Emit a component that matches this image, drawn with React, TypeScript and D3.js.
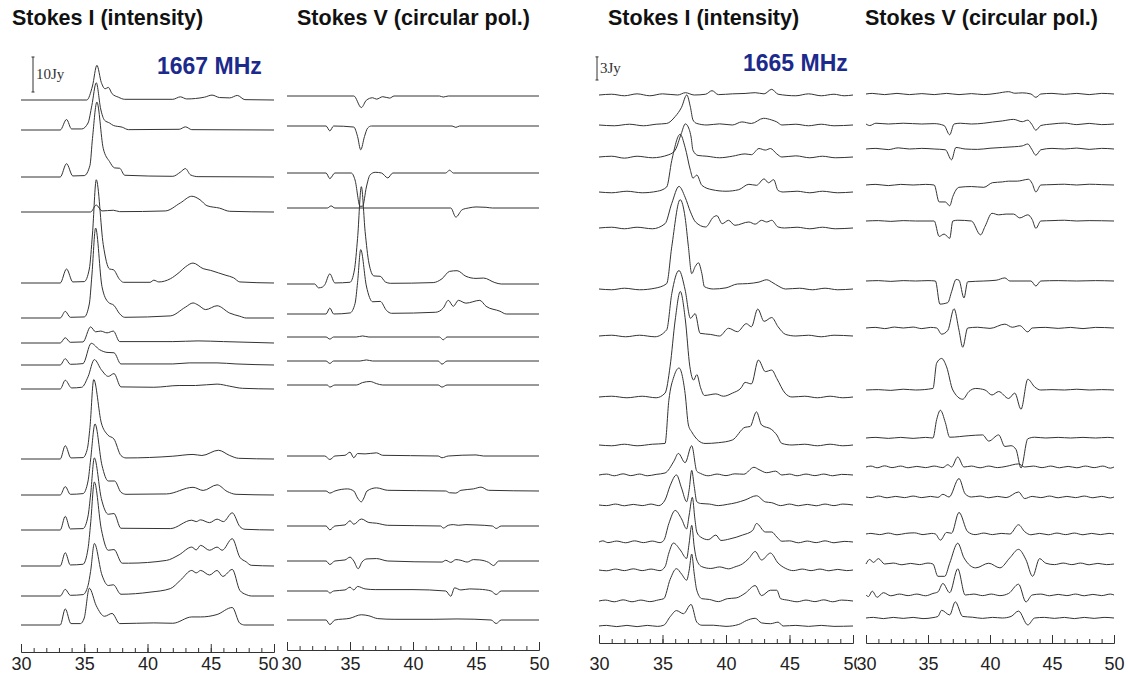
import { useEffect, useRef } from 'react'
import * as d3 from 'd3'

// velocity axis, km/s
const velDomain = [30, 50]
const majorTicks = [30, 35, 40, 45, 50]
const minorTicks = d3.range(30, 51, 1)

const titles = ['Stokes I (intensity)', 'Stokes V (circular pol.)', 'Stokes I (intensity)', 'Stokes V (circular pol.)']
const freqLabels = ['1667 MHz', '1665 MHz']
const barLabels = ['10Jy', '3Jy']
const barJy = [10, 3]

// spectra, flat lists of (velocity, flux in Jy), top trace first
const stokesI1667 = [
  [35.2,0, 35.65,4, 36.0,9.9, 36.35,5, 36.65,3.2, 36.9,3.6, 37.2,1.8, 37.7,0.8, 38.2,0.2, 42.0,0.2, 42.6,0.9, 43.1,0.3, 44.5,0.8, 45.1,1.4, 45.7,0.7, 46.5,0.6, 47.1,1.3, 47.7,0.1],
  [33.1,0, 33.6,3, 34.0,0.3, 34.8,0.3, 35.3,2, 35.6,7, 35.95,13.5, 36.3,6, 36.6,2.8, 37.0,2, 37.3,1.3, 38.0,0.8, 38.5,0.1, 42.5,0.2, 43.0,0.9, 43.5,0.1],
  [33.1,0, 33.6,3.8, 34.1,0.3, 35.0,0.4, 35.45,3.3, 35.65,11, 36.0,21.4, 36.5,8.2, 37.0,4.4, 37.4,2.6, 37.8,2.5, 38.2,0.5, 42.0,0.2, 42.6,1.4, 43.0,2.4, 43.4,0.6, 44.0,0.1],
  [35.5,0, 35.95,2, 36.4,0.3, 37.3,0.5, 37.8,0.1, 41.4,0.3, 42.6,2.6, 43.5,4.5, 44.15,3.5, 44.7,1.8, 45.7,1.1, 46.5,0.2],
  [33.1,0, 33.6,4, 34.1,0.3, 35.0,0.4, 35.4,4, 35.65,14, 35.95,29.5, 36.5,11, 37.0,4, 37.3,3.8, 37.8,1, 38.1,0.2, 40.2,0.2, 40.5,0.8, 40.9,0.3, 41.8,1.2, 42.5,3, 43.0,4.6, 43.6,5.7, 44.4,4.1, 45.0,3.6, 45.6,2.9, 46.2,2.2, 46.8,1.5, 47.3,0.3],
  [33.1,0, 33.5,1.9, 33.9,0.2, 35.0,0.3, 35.4,4, 35.6,12, 35.9,25.7, 36.4,9, 36.9,4.5, 37.35,3.6, 37.8,1.2, 38.2,0.2, 41.8,0.6, 43.0,3.1, 43.6,4.3, 44.0,3.7, 44.6,2.4, 45.5,3.5, 46.5,1.4, 47.3,0.5, 47.8,0],
  [33.1,0, 33.5,1.5, 33.9,0.2, 34.9,0.3, 35.5,4.6, 35.9,3.2, 36.3,3.4, 36.8,2.9, 37.3,3.4, 37.8,0.4, 42.0,0.4, 44.0,0.6, 46.0,0.4],
  [33.1,0, 33.5,1.8, 33.9,0.2, 34.9,0.4, 35.55,6.2, 36.2,4.4, 36.8,3.6, 37.35,3.5, 37.9,0.3, 42.0,0.3, 43.3,0.6, 45.5,0.6, 47.0,0.3],
  [33.1,0, 33.5,2.5, 34.0,0.3, 34.8,0.5, 35.3,3.5, 35.8,8.4, 36.35,5.5, 36.9,3.6, 37.35,4.4, 37.9,0.6, 40.5,0.5, 42.5,1, 43.8,1, 45.5,1.4, 46.5,0.8, 47.5,0.2],
  [33.1,0, 33.5,3.8, 33.95,0.3, 34.9,0.4, 35.25,3, 35.45,9, 35.75,22.7, 36.35,10.3, 36.85,6.9, 37.35,5.7, 37.9,1, 38.3,0.3, 42.0,0.8, 43.6,1.3, 44.3,1, 45.6,2.5, 46.5,1, 47.2,0.2],
  [33.1,0, 33.5,2.4, 33.9,0.2, 34.9,0.4, 35.3,4, 35.5,10, 35.85,20.3, 36.4,8.5, 36.9,4, 37.4,4, 37.9,0.8, 38.3,0.2, 41.5,0.3, 43.6,2.2, 44.4,1.3, 45.5,2.9, 46.3,1, 47.0,0.2],
  [33.1,0, 33.5,3.9, 33.9,0.3, 34.9,0.4, 35.3,4, 35.5,10, 35.8,20.6, 36.35,9, 36.9,4.5, 37.35,4.7, 37.9,0.5, 41.8,0.4, 43.5,2.8, 43.85,2.4, 44.2,2.9, 44.9,2.1, 45.5,3.1, 46.0,2.4, 46.7,4.9, 47.3,1, 47.7,0.2],
  [33.1,0, 33.5,3.8, 33.9,0.3, 34.9,0.5, 35.3,5, 35.5,12, 35.8,24, 36.35,10.5, 36.9,4.5, 37.35,4.7, 38.0,0.8, 38.5,0.8, 41.5,1.6, 42.5,3.2, 43.5,5.4, 43.85,4.6, 44.2,5.9, 44.9,4.5, 45.5,5.4, 45.9,4.5, 46.7,7.8, 47.3,2.5, 47.8,1.2, 48.2,0.2],
  [33.1,0, 33.5,1.9, 33.9,0.2, 34.9,0.4, 35.3,3, 35.5,7, 35.8,15, 36.4,6, 36.9,3, 37.3,3.2, 37.9,0.5, 40.2,1.1, 41.8,2.1, 42.6,4.5, 43.5,7.3, 43.85,6.6, 44.2,7.3, 44.9,6, 45.5,7.3, 45.95,5.6, 46.7,7.6, 47.3,1.6, 47.8,0.4, 48.2,0],
  [33.1,0, 33.5,4.6, 33.95,0.4, 34.7,0.4, 35.0,2, 35.4,10.5, 35.95,5.5, 36.6,2.5, 37.2,3.3, 37.8,0.4, 40.5,0.6, 42.0,0.5, 43.5,2.3, 44.2,2.3, 45.5,3, 46.7,5, 47.3,0.5, 47.7,0],
]

const stokesV1667 = [
  [35.3,0, 35.9,-3.3, 36.3,-1.2, 36.8,-0.5, 37.1,-0.9, 37.6,-0.2, 38.15,-0.6, 38.5,0, 42.1,0, 42.4,-0.3, 42.8,0],
  [33.1,0, 33.4,-1.4, 33.7,0, 35.3,-0.3, 35.6,-3, 35.85,-6.8, 36.15,-3, 36.4,-0.6, 36.7,0, 43.1,0, 43.4,-0.4, 43.7,0],
  [33.1,0, 33.4,-1.6, 33.8,0, 35.1,0, 35.4,-2, 35.8,-9.5, 36.0,-9.5, 36.3,-4, 36.6,-0.5, 37.0,0.2, 37.5,0, 38.0,-1.4, 38.4,0, 42.6,0, 42.9,0.8, 43.2,0],
  [33.2,0, 33.5,0.6, 33.8,0, 43.0,0, 43.4,-2.6, 43.9,-0.5, 44.4,0, 45.0,0.3, 45.8,0.2, 46.3,0],
  [32.2,0, 32.5,-1.1, 32.8,-0.9, 33.0,-0.2, 33.4,2.9, 33.8,0.3, 35.0,0.5, 35.35,4, 35.6,13, 35.9,27.8, 36.2,15, 36.5,6, 36.9,2.3, 37.4,2.2, 37.8,0.6, 38.2,0.2, 41.6,0.4, 42.3,1.5, 42.9,3.6, 43.5,3.8, 44.2,2.2, 45.0,1.6, 45.6,1.7, 46.5,0.4, 47.0,0],
  [33.1,0, 33.4,1.7, 33.7,0, 35.0,0.3, 35.4,3, 35.6,9, 35.85,18.4, 36.3,8, 36.8,3.5, 37.4,3.6, 37.9,1, 38.3,0.2, 41.8,0.5, 42.4,1.7, 42.8,3.9, 43.2,2.2, 43.6,3.9, 44.2,3.1, 45.3,3.9, 45.8,2.2, 46.9,0.8, 47.4,0],
  [33.1,0, 33.4,-0.6, 33.7,0, 35.5,0, 36.0,0.3, 36.5,0, 42.1,0, 42.4,-0.8, 42.7,0],
  [33.1,0, 33.4,-0.7, 33.7,0, 35.8,0, 36.3,0.3, 36.8,0, 42.0,0, 42.3,-0.9, 42.7,0],
  [33.2,0, 33.4,-0.6, 33.8,0, 35.5,0, 36.0,0.7, 36.6,1, 37.1,0.4, 37.6,0, 42.0,0, 42.3,-0.6, 42.7,0],
  [33.0,0, 33.4,-1, 33.8,0, 34.6,0.2, 35.0,1.1, 35.3,-0.5, 35.6,0.7, 36.2,0.6, 37.1,0.9, 37.6,0.2, 42.0,0, 42.3,-0.5, 42.8,0, 45.0,0.3, 45.6,0],
  [33.1,0, 33.4,-0.6, 33.8,0, 34.8,0.6, 35.3,0, 35.6,-2, 35.9,-3.1, 36.1,-2, 36.35,0, 37.1,0.9, 38.0,0.2, 42.6,0, 42.9,-0.5, 43.4,-0.6, 43.8,0.2, 44.8,0.6, 45.4,1.1, 46.0,0.2],
  [33.1,0, 33.4,-1.1, 33.8,0, 34.6,0.3, 35.0,1.5, 35.3,0.5, 35.9,2, 36.5,1, 37.1,0.8, 38.0,0.2, 42.2,0, 42.4,-0.6, 42.8,0.2, 43.2,0.4, 43.6,0.2, 44.2,0.4, 45.0,0.3, 46.3,0, 46.6,-0.7, 47.0,0],
  [33.1,0, 33.4,-1, 33.8,0, 34.6,0.3, 35.0,1.1, 35.3,0, 35.65,-2.2, 35.95,-0.3, 36.35,0.6, 37.1,0.7, 38.0,0, 42.3,-0.3, 42.6,0.2, 43.0,-0.4, 43.4,0.4, 43.8,0.2, 44.3,-0.3, 44.8,0.4, 45.3,0.3, 46.0,-0.4, 46.4,-1.3, 46.8,0],
  [33.2,0, 33.4,-0.6, 33.7,0, 34.6,0.3, 35.0,1.1, 35.3,0.3, 35.6,1.3, 36.2,0.6, 37.0,0.4, 40.0,0.4, 42.6,0, 43.0,-1.5, 43.3,0.9, 43.8,0.3, 44.5,0.6, 45.3,0.5, 46.2,0, 46.6,-1, 47.0,0],
  [33.1,0, 33.4,-1.3, 33.8,0, 35.0,0.5, 35.9,1.5, 36.5,1.2, 37.2,0.4, 38.5,0.2, 41.6,0.2, 43.5,0.3, 46.2,0, 46.6,-1, 47.0,0],
]

const stokesI1665 = [
  [31.0,0.1, 32.0,-0.1, 33.0,0.15, 34.0,-0.1, 35.0,0.15, 36.2,0, 36.8,0.3, 37.5,0, 38.4,0.1, 38.9,0.56, 39.4,0.05, 40.5,0.15, 41.5,0.2, 42.3,0.3, 43.0,0.15, 43.6,0.74, 44.1,0.1, 45.5,-0.1, 46.5,0.15, 47.5,-0.1, 48.5,0.1, 49.3,-0.1],
  [31.2,-0.1, 32.4,0.1, 33.5,-0.1, 34.5,0.1, 35.33,0.2, 36.0,1.1, 36.5,2.3, 36.91,3.9, 37.2,2.3, 37.4,0.65, 37.7,0.2, 38.5,0, 39.5,0.15, 40.5,0, 41.25,0.4, 42.0,0.2, 42.96,0.87, 43.6,0.65, 44.0,0.4, 44.4,0, 45.5,0.1, 46.5,-0.1, 47.5,0.1, 48.5,-0.1],
  [31.0,0.1, 32.0,-0.15, 33.0,0.1, 34.2,-0.1, 35.5,0.3, 36.0,0.9, 36.47,3, 36.8,4.3, 37.1,3.6, 37.25,2.6, 37.4,0.87, 37.8,0.2, 38.5,0.1, 39.5,-0.1, 40.5,0.1, 41.5,0.4, 42.0,0.3, 42.6,1.1, 43.1,0.9, 43.5,1.1, 44.0,0.4, 44.4,0, 45.5,0.15, 46.6,-0.1, 47.6,0.1, 48.6,-0.1],
  [31.0,-0.1, 32.2,0.1, 33.4,-0.1, 34.6,0.1, 35.33,0.65, 35.73,4.1, 36.39,7.5, 36.78,5.8, 37.2,2.8, 37.4,1.8, 37.7,2.2, 38.1,0.87, 38.9,0.3, 40.0,0.1, 41.0,0.3, 41.8,1.0, 42.4,0.87, 43.0,1.7, 43.35,1.2, 43.75,1.6, 44.1,0.2, 44.5,0, 45.6,0.1, 46.6,-0.1, 47.6,0.1, 48.8,-0.1],
  [31.0,0.1, 32.0,-0.1, 33.0,0.1, 34.2,-0.1, 35.2,0.56, 35.73,3.2, 36.3,5.4, 36.78,4, 37.2,2.1, 37.6,0.78, 38.4,0.13, 39.0,1.4, 39.28,1.6, 39.7,0.56, 40.2,1.0, 40.7,0.35, 41.8,0.78, 42.3,0.5, 42.8,1.0, 43.2,0.78, 43.6,1.0, 44.1,0.13, 44.6,0, 45.6,0.1, 46.6,-0.1, 47.6,0.1, 48.6,-0.1],
  [31.0,-0.1, 32.0,0.1, 33.2,-0.1, 34.4,0.1, 35.33,0.7, 35.73,5.5, 36.39,11.6, 36.78,9.3, 37.04,5.5, 37.3,2, 37.57,2.9, 37.83,3.4, 38.1,2, 38.3,0.3, 39.0,0, 40.0,0.15, 40.9,0.65, 41.7,0.7, 42.6,0.9, 43.2,1.2, 43.7,0.8, 44.1,0.4, 44.7,0, 45.8,0.1, 46.8,-0.1, 47.8,0.1, 48.8,-0.1],
  [31.0,0.1, 32.1,-0.1, 33.2,0.1, 34.4,-0.1, 35.33,0.8, 35.73,5.5, 36.3,8.5, 36.78,6, 37.2,2.3, 37.57,2.9, 37.96,0.35, 38.8,0.2, 39.5,0, 40.2,1, 40.9,0.56, 41.6,1.6, 42.0,1.2, 42.5,3.5, 43.0,1.9, 43.6,2.4, 44.1,1.2, 44.7,0.2, 45.5,0, 46.5,0.1, 47.5,-0.1, 48.5,0.1],
  [31.0,0.1, 32.2,-0.1, 33.4,0.1, 34.5,-0.1, 35.2,0.5, 35.6,4, 36.0,10, 36.4,13.7, 36.8,10, 37.15,4, 37.45,2.2, 37.7,2.9, 38.0,1.2, 38.3,0.2, 39.2,0.4, 39.8,0.1, 40.5,0.5, 41.2,1.2, 41.5,1.9, 42.0,1.7, 42.55,4.8, 43.1,3.3, 43.6,3.5, 44.0,2.4, 44.65,0.5, 45.2,0, 46.2,0.1, 47.2,-0.1, 48.2,0.1, 49.2,-0.1],
  [31.0,-0.1, 32.0,0.1, 33.0,-0.1, 34.2,0.1, 35.2,0.2, 35.5,5.8, 35.9,8.9, 36.3,10, 36.78,6.7, 37.04,2.6, 37.3,1.7, 38.35,0.2, 39.4,0.3, 40.5,0.65, 41.5,2.3, 41.9,2.4, 42.4,4.3, 42.8,2.6, 43.6,2.0, 44.0,1.3, 44.4,0.2, 45.2,0, 46.2,0.1, 47.2,-0.1, 48.2,0.1, 49.2,-0.1],
  [30.6,0.12, 31.2,-0.1, 31.9,0.15, 32.5,-0.08, 33.2,0.12, 33.8,-0.1, 34.5,0.08, 35.2,0.26, 35.9,1.8, 36.25,2.8, 36.78,1.6, 37.3,3.8, 37.7,0.5, 38.0,0.2, 38.6,-0.1, 39.3,0.12, 40.0,-0.08, 40.7,0.15, 41.4,0.1, 42.2,1.0, 42.6,0.7, 43.2,0.3, 43.9,0.5, 44.4,0, 45.0,0.12, 45.6,-0.1, 46.3,0.12, 47.0,-0.08, 47.7,0.12, 48.4,-0.1, 49.1,0.08],
  [30.6,-0.08, 31.3,0.12, 32.0,-0.1, 32.7,0.08, 33.4,-0.08, 34.1,0.12, 34.7,-0.08, 35.2,0.65, 35.6,2.5, 36.1,3.9, 36.5,2.2, 36.9,0.43, 37.1,2, 37.3,4.5, 37.5,2.4, 37.7,0.43, 38.0,0.2, 38.7,0.12, 39.4,-0.08, 40.1,0.08, 40.8,0.3, 41.5,0.65, 42.4,1.2, 43.1,0.4, 43.6,0.3, 44.3,-0.08, 45.0,0.12, 45.7,-0.1, 46.4,0.08, 47.1,-0.1, 47.8,0.12, 48.5,-0.08, 49.2,0.12],
  [30.3,0.15, 30.7,-0.08, 31.4,0.12, 32.1,-0.1, 32.8,0.15, 33.5,-0.08, 34.2,0.12, 34.8,-0.08, 35.1,0.2, 35.5,2.4, 36.0,4.1, 36.5,3.0, 36.9,1.7, 37.1,3.5, 37.35,5.8, 37.55,3.0, 37.7,1.3, 38.0,0.65, 38.6,0.3, 39.2,0.9, 39.6,0.2, 40.3,0.4, 41.3,0.9, 42.1,1.5, 42.4,2.4, 43.1,1.3, 43.6,1.3, 44.0,0.65, 44.4,0.1, 45.0,0.15, 45.7,-0.1, 46.4,0.12, 47.1,-0.08, 47.8,0.15, 48.5,-0.1, 49.3,0.08],
  [30.6,-0.1, 31.3,0.12, 32.0,-0.08, 32.7,0.15, 33.4,-0.08, 34.1,0.12, 34.8,-0.08, 35.2,0.43, 35.5,2.2, 35.86,3.5, 36.4,2.6, 36.9,1.5, 37.1,3.5, 37.3,5.8, 37.5,3.0, 37.7,1.3, 38.1,0.43, 38.8,0.2, 39.5,0.4, 40.2,0.15, 40.7,0.4, 41.3,0.8, 41.8,1.5, 42.3,2.4, 42.8,1.3, 43.5,2.2, 44.1,0.9, 44.7,0.2, 45.3,-0.08, 46.0,0.12, 46.7,-0.08, 47.4,0.12, 48.1,-0.1, 48.8,0.08, 49.5,-0.08],
  [30.5,0.12, 31.2,-0.1, 31.9,0.15, 32.6,-0.1, 33.3,0.12, 34.0,-0.08, 34.7,0.15, 35.1,0.3, 35.6,2.8, 36.1,4.2, 36.5,3.5, 36.9,2.7, 37.1,4.0, 37.3,6.1, 37.5,3.5, 37.7,1.4, 38.1,0.3, 38.7,0.2, 39.4,-0.08, 40.1,0.3, 40.8,0.4, 41.5,1.0, 42.3,2.0, 42.8,0.7, 43.5,1.4, 44.0,1.4, 44.3,0.3, 44.9,0.1, 45.6,-0.1, 46.3,0.12, 47.0,-0.08, 47.7,0.15, 48.4,-0.1, 49.1,0.12],
  [30.6,0.08, 31.4,-0.08, 32.2,0.08, 33.0,-0.08, 33.8,0.08, 34.6,-0.05, 35.1,0.1, 35.6,1.2, 36.1,2.0, 36.65,1.6, 37.25,2.8, 37.7,0.5, 38.1,0.1, 39.0,0.1, 40.0,-0.05, 41.0,0.2, 41.6,0.7, 42.3,1.0, 42.8,0.4, 43.5,0.3, 44.1,0.5, 44.5,0, 45.5,0.08, 46.5,-0.05, 47.5,0.08, 48.5,-0.05],
]

const stokesV1665 = [
  [30.5,0.08, 31.5,-0.08, 32.5,0.08, 33.5,-0.08, 34.5,0.05, 35.5,-0.08, 36.5,0.08, 37.5,-0.08, 38.5,0.05, 39.5,-0.08, 40.5,0.08, 41.5,0.3, 42.0,0.1, 42.6,0.15, 43.3,0, 43.7,-0.43, 44.1,0, 45.0,0.08, 46.0,-0.05, 47.0,0.08, 48.0,-0.08, 49.0,0.08],
  [30.3,-0.2, 30.8,0.1, 31.8,0, 33.0,0.1, 34.5,0, 35.5,0.05, 36.3,-0.2, 36.75,-1.4, 37.1,0, 37.6,0.1, 38.5,0, 39.5,0.1, 40.2,0.25, 41.0,0.4, 41.9,0.6, 42.6,0.3, 43.05,0.5, 43.35,0, 43.7,-0.8, 44.1,-0.2, 45.0,0, 46.0,0.12, 47.0,-0.08, 48.0,0.08, 49.0,-0.08],
  [30.8,0.08, 31.8,-0.08, 32.6,0.15, 33.5,0, 34.5,0.08, 35.5,0, 36.4,-0.1, 36.9,-1.4, 37.25,0.2, 38.0,0, 39.0,-0.05, 40.0,0.1, 41.0,0.2, 42.0,0.3, 42.6,0.4, 43.05,0.65, 43.35,0, 43.7,-0.8, 44.1,-0.1, 45.0,0.08, 46.0,0, 47.0,0.12, 48.0,-0.05, 49.0,0.08],
  [30.8,0.08, 31.8,-0.08, 32.8,0.08, 33.8,0, 34.8,0.08, 35.5,0, 35.9,-2.2, 36.4,-2.2, 36.75,-2.7, 37.0,-1.5, 37.5,-0.3, 38.5,-0.2, 39.5,-0.3, 40.2,0.3, 41.0,0.4, 41.5,0.5, 42.2,0.5, 42.6,0.6, 43.1,0.75, 43.4,0.2, 43.7,-0.9, 44.1,0, 45.0,0.05, 46.0,0.1, 47.0,0, 48.0,0.1, 49.0,0.05],
  [31.0,0.05, 32.0,-0.05, 33.0,0.05, 34.0,0, 35.5,0, 35.9,-2.0, 36.3,-1.7, 36.75,-2.25, 37.0,0, 37.4,0.1, 38.5,0, 39.24,-1.8, 39.6,-0.7, 40.16,1.0, 40.7,0.8, 41.3,0.9, 41.9,0.9, 42.4,0.4, 43.05,0.8, 43.4,0.2, 43.7,-0.95, 44.1,0, 45.0,0.05, 46.0,0.1, 47.0,0, 48.0,0.05],
  [31.0,0.05, 32.0,-0.05, 33.0,0.05, 34.0,0, 35.0,0.05, 35.6,0, 35.96,-3, 36.6,-2.8, 36.9,-1.4, 37.27,0.2, 37.5,0.1, 37.9,-2.2, 38.2,-0.1, 39.5,0, 40.5,0.1, 41.2,0.4, 41.6,0, 43.3,0, 43.7,-0.65, 44.1,0, 45.5,0.05, 47.0,0, 48.5,0.05],
  [30.8,0.08, 31.5,-0.08, 32.3,0.12, 33.0,0, 33.8,0.12, 34.5,-0.08, 35.2,0.08, 35.7,0, 36.1,-0.8, 36.6,-0.3, 37.1,2.5, 37.5,-0.3, 37.8,-2.5, 38.2,0, 39.0,0.1, 40.0,-0.05, 41.2,0.5, 41.8,0.1, 42.4,0.3, 43.05,-0.5, 43.4,0, 44.5,0.08, 45.5,-0.05, 46.5,0.08, 47.5,-0.08, 48.5,0.08],
  [31.0,0.05, 32.0,-0.05, 33.0,0.1, 34.0,0, 35.4,0.2, 35.7,3.5, 36.1,4.1, 36.5,3.0, 37.0,0, 37.8,-1.2, 38.3,-0.2, 38.85,0.2, 39.6,0, 40.16,-0.65, 40.7,-0.2, 41.5,-1.1, 42.0,-0.4, 42.5,-2.5, 43.05,1.4, 43.6,0.4, 44.1,0, 45.0,0.05, 46.0,0, 47.0,0.1, 48.0,0, 49.0,0.05],
  [30.8,0.08, 31.8,-0.05, 32.8,0.08, 33.8,-0.05, 34.8,0.08, 35.4,0, 35.7,2.4, 36.0,3.6, 36.4,2.0, 36.75,0.1, 38.3,0.3, 39.4,0.4, 39.9,-0.4, 40.7,0.4, 41.2,-1.1, 41.7,-1.0, 42.1,-1.5, 42.5,-3.9, 43.05,-0.1, 43.6,0.1, 44.5,0, 45.5,0.08, 46.5,0, 47.5,0.08, 48.5,0, 49.5,0.08],
  [30.4,0.12, 30.9,-0.1, 31.5,0.15, 32.1,-0.08, 32.8,0.12, 33.4,-0.1, 34.1,0.08, 34.8,-0.08, 35.5,0.12, 36.2,-0.08, 36.6,0.3, 36.9,0, 37.4,1.3, 37.9,0, 38.5,0.12, 39.2,-0.1, 39.9,0.12, 40.6,-0.08, 41.3,0.08, 42.3,0.4, 42.8,0, 43.5,0.12, 44.2,-0.08, 44.9,0.12, 45.6,-0.1, 46.3,0.08, 47.0,-0.1, 47.7,0.12, 48.4,-0.08, 49.1,0.12, 49.7,-0.15],
  [30.4,-0.08, 31.0,0.12, 31.7,-0.1, 32.4,0.08, 33.1,-0.08, 33.8,0.12, 34.5,-0.08, 35.2,0.08, 35.8,-0.05, 36.2,0.35, 36.7,0, 37.5,2.4, 38.0,0.4, 38.5,0, 39.2,0.12, 39.9,-0.1, 40.6,0.08, 41.3,-0.08, 42.3,0.65, 42.8,-0.2, 43.4,0.08, 44.1,-0.08, 44.8,0.12, 45.5,-0.1, 46.2,0.08, 46.9,-0.08, 47.6,0.12, 48.3,-0.1, 49.0,0.08, 49.7,-0.12],
  [30.4,0.08, 31.1,-0.08, 31.8,0.12, 32.5,-0.1, 33.2,0.08, 33.9,0.15, 34.6,-0.08, 35.3,0.08, 35.6,0, 36.0,-0.8, 36.5,0.2, 36.9,0.1, 37.5,2.8, 38.2,0.3, 38.8,-0.08, 39.5,0.12, 40.2,-0.08, 40.9,0.08, 41.6,0, 42.3,1.2, 42.8,0.3, 43.3,-0.1, 44.0,0.08, 44.7,-0.1, 45.4,0.12, 46.1,-0.08, 46.8,0.12, 47.5,-0.1, 48.2,0.08, 48.9,-0.08, 49.6,0.08],
  [30.3,0.6, 30.6,0.2, 31.0,0.7, 31.5,0, 32.2,0.12, 32.9,-0.1, 33.6,0.08, 34.3,-0.08, 35.0,0.12, 35.4,0, 35.8,-1.6, 36.35,-1.6, 36.75,0.1, 37.4,2.7, 37.9,0.8, 38.85,-0.5, 39.9,0.1, 40.8,-0.5, 41.6,0.8, 42.3,1.9, 42.9,0.55, 43.44,-1.6, 44.0,0.7, 44.5,0.1, 45.2,-0.08, 45.9,0.12, 46.6,-0.08, 47.3,0.12, 48.0,-0.1, 48.7,0.08, 49.4,-0.08],
  [30.2,-0.2, 30.5,0.5, 30.9,-0.3, 31.4,0.3, 32.0,-0.1, 32.7,0.12, 33.4,-0.08, 34.1,0.12, 34.8,-0.1, 35.4,0.2, 35.8,0.4, 36.2,1.5, 36.75,0.3, 37.4,3.4, 38.0,0, 38.7,0.12, 39.4,-0.08, 40.1,0.12, 40.8,-0.08, 41.5,0.2, 42.3,1.4, 42.9,-0.9, 43.4,0, 44.1,0.12, 44.8,-0.1, 45.5,0.08, 46.2,-0.08, 46.9,0.12, 47.6,-0.1, 48.3,0.08, 49.0,-0.08, 49.7,0.12],
  [30.6,0.08, 31.4,-0.08, 32.2,0.08, 33.0,-0.05, 33.8,0.08, 34.6,-0.08, 35.4,0.05, 35.8,0.2, 36.1,1.0, 36.75,0.4, 37.2,2.1, 37.8,0.2, 38.6,0.1, 39.4,-0.05, 40.2,0.08, 41.0,0, 41.7,0.2, 42.3,0.9, 43.05,-0.9, 43.6,0, 44.4,0.08, 45.2,-0.05, 46.0,0.08, 46.8,-0.08, 47.6,0.08, 48.4,-0.05, 49.2,0.08],
]

// layout: trace zero levels (px) and panel placement
const offsetsI1667 = [100, 130, 177, 212, 283, 318, 343, 365, 389, 459, 495, 530, 566, 596, 625]
const offsetsV1667 = [96, 126, 173, 208, 284, 314, 337, 361, 385, 456, 491, 526, 561, 591, 620]
const offsetsI1665 = [95, 125, 157, 192, 228, 289, 336, 397, 445, 475, 505, 542, 570, 601, 626]
const offsetsV1665 = [94, 124, 149, 185, 221, 281, 328, 390, 438, 467, 497, 534, 564, 595, 618]

const panels = [
  { data: stokesI1667, offsets: offsetsI1667, x0: 21, x1: 274, pxPerJy: 3.5, axisY: 652, titleX: 12 },
  { data: stokesV1667, offsets: offsetsV1667, x0: 287, x1: 539, pxPerJy: 3.5, axisY: 650, titleX: 297 },
  { data: stokesI1665, offsets: offsetsI1665, x0: 599, x1: 853, pxPerJy: 7.7, axisY: 643, titleX: 608 },
  { data: stokesV1665, offsets: offsetsV1665, x0: 866, x1: 1114, pxPerJy: 7.7, axisY: 643, titleX: 865 },
]

const INK = '#333'
const LABEL_BASE = 670
const LABEL_SIZE = 18

function toPairs(flat: number[]) {
  const pts: [number, number][] = []
  for (let i = 0; i < flat.length; i += 2) pts.push([flat[i], flat[i + 1]])
  if (pts[0][0] > velDomain[0]) pts.unshift([velDomain[0], 0])
  if (pts[pts.length - 1][0] < velDomain[1]) pts.push([velDomain[1], 0])
  return pts
}

export default function App() {
  const ref = useRef<SVGSVGElement>(null)

  useEffect(() => {
    const svg = d3.select(ref.current)
    svg.selectAll('*').remove()
    svg.append('rect').attr('width', 1128).attr('height', 673).attr('fill', '#fff')

    panels.forEach((p, pi) => {
      const x = d3.scaleLinear().domain(velDomain).range([p.x0, p.x1])
      const y = d3.scaleLinear().domain([0, 1]).range([0, -p.pxPerJy])
      const line = d3.line<[number, number]>()
        .x(d => x(d[0]))
        .y(d => y(d[1]))
        .curve(d3.curveMonotoneX)

      // spectra
      const g = svg.append('g')
      p.data.forEach((flat, i) => {
        g.append('path')
          .attr('transform', `translate(0,${p.offsets[i]})`)
          .attr('d', line(toPairs(flat)))
          .attr('fill', 'none')
          .attr('stroke', INK)
          .attr('stroke-width', 1)
          .attr('stroke-linejoin', 'round')
      })

      // the right panel's first label sits over the left panel's last one
      if (pi === 3) {
        svg.append('rect').attr('x', 857).attr('y', p.axisY + 10).attr('width', 22).attr('height', 30).attr('fill', '#fff')
      }

      // velocity axis: minor ticks every 1, major every 5
      svg.append('g')
        .attr('transform', `translate(0,${p.axisY})`)
        .call(d3.axisBottom(x).tickValues(minorTicks).tickSizeInner(-4).tickSizeOuter(0).tickFormat(() => ''))
        .call(a => a.selectAll('line,path').attr('stroke', INK))

      svg.append('g')
        .attr('transform', `translate(0,${p.axisY})`)
        .call(d3.axisBottom(x).tickValues(majorTicks).tickSizeInner(-8).tickSizeOuter(0)
          .tickPadding(LABEL_BASE - p.axisY - 0.71 * LABEL_SIZE)
          .tickFormat(d3.format('d')))
        .attr('font-size', LABEL_SIZE)
        .attr('font-family', 'Liberation Sans, Arial, sans-serif')
        .call(a => a.selectAll('line,path').attr('stroke', INK))
        .call(a => a.selectAll<SVGTextElement, number>('text')
          .attr('fill', '#222')
          .attr('dx', d => (pi === 0 && d === 50 ? -6 : pi === 1 && d === 30 ? 4 : 0)))

      // panel title
      svg.append('text')
        .attr('x', p.titleX)
        .attr('y', 25)
        .attr('font-family', 'Liberation Sans, Arial, sans-serif')
        .attr('font-weight', 'bold')
        .attr('font-size', 21.5)
        .attr('fill', '#111')
        .text(titles[pi])

      // flux scale bar + frequency label on the Stokes I panels
      if (pi === 0 || pi === 2) {
        const k = pi / 2
        const barX = pi === 0 ? 33 : 597
        const barBottom = pi === 0 ? 92 : 80
        const h = y(barJy[k]) - y(0)
        svg.append('line')
          .attr('x1', barX).attr('x2', barX)
          .attr('y1', barBottom).attr('y2', barBottom + h)
          .attr('stroke', INK).attr('stroke-width', 1)
        ;[barBottom, barBottom + h].forEach(yy => {
          svg.append('line').attr('x1', barX - 1.5).attr('x2', barX + 1.5)
            .attr('y1', yy).attr('y2', yy).attr('stroke', INK).attr('stroke-width', 1)
        })
        svg.append('text')
          .attr('x', barX + 3)
          .attr('y', pi === 0 ? 79 : 73)
          .attr('font-family', 'Liberation Serif, DejaVu Serif, serif')
          .attr('font-size', 15)
          .attr('fill', '#333')
          .text(barLabels[k])

        svg.append('text')
          .attr('x', pi === 0 ? 157 : 743)
          .attr('y', pi === 0 ? 74 : 71)
          .attr('font-family', 'Liberation Sans, Arial, sans-serif')
          .attr('font-weight', 'bold')
          .attr('font-size', 23)
          .attr('fill', '#1b2a8c')
          .text(freqLabels[k])
      }
    })
  }, [])

  return (
    <svg
      ref={ref}
      width={1128}
      height={673}
      style={{ position: 'absolute', left: 0, top: 0, display: 'block' }}
    />
  )
}
